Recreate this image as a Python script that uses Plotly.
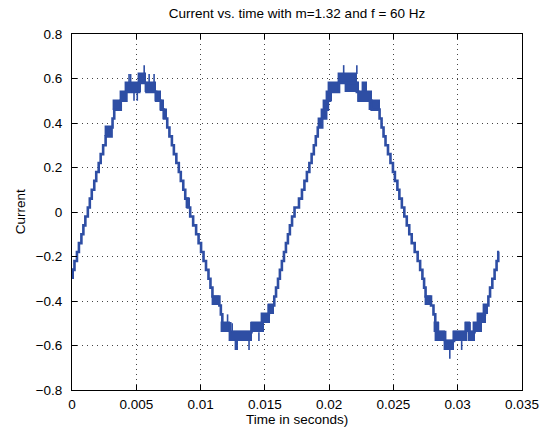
import plotly.graph_objects as go

# ---- data (time in s, current) ----
# staircase: time where each current level starts, and that level
step_t = [0.0, 0.000192, 0.000385, 0.000538, 0.000731, 0.000885, 0.001038, 0.001231, 0.001385, 0.001538,
          0.001731, 0.001885, 0.002077, 0.002231, 0.002423, 0.002615, 0.003077, 0.003154, 0.003285, 0.003792,
          0.004231, 0.005231, 0.005792, 0.006538, 0.006923, 0.007154, 0.007408, 0.007577, 0.007769, 0.007923,
          0.008115, 0.008308, 0.008462, 0.008654, 0.008808, 0.009000, 0.009192, 0.009423, 0.009654, 0.009846,
          0.010038, 0.010231, 0.010423, 0.010615, 0.010769, 0.010923, 0.011462, 0.011577, 0.011692, 0.012308,
          0.013962, 0.014808, 0.015308, 0.015731, 0.015869, 0.016023, 0.016169, 0.016323, 0.016485, 0.016638,
          0.016792, 0.016946, 0.017115, 0.017308, 0.017654, 0.017885, 0.018077, 0.018269, 0.018462, 0.018638,
          0.018808, 0.018962, 0.019115, 0.019462, 0.019769, 0.019900, 0.020077, 0.020769, 0.022154, 0.022285,
          0.023308, 0.023923, 0.024077, 0.024231, 0.024385, 0.024577, 0.024769, 0.024962, 0.025115, 0.025308,
          0.025462, 0.025654, 0.025846, 0.026038, 0.026231, 0.026423, 0.026654, 0.026885, 0.027077, 0.027254,
          0.027385, 0.027500, 0.027923, 0.028115, 0.028254, 0.028462, 0.029023, 0.029715, 0.030638, 0.030923,
          0.031308, 0.031769, 0.032115, 0.032385, 0.032515, 0.032692, 0.032869, 0.033023, 0.033154, 0.033231]
step_i = [-0.26, -0.22, -0.18, -0.14, -0.10, -0.06, -0.02, 0.02, 0.06, 0.10,
          0.14, 0.18, 0.22, 0.26, 0.30, 0.34, 0.38, 0.42, 0.46, 0.50,
          0.54, 0.58, 0.54, 0.50, 0.46, 0.42, 0.38, 0.34, 0.30, 0.26,
          0.22, 0.18, 0.14, 0.10, 0.06, 0.02, -0.02, -0.06, -0.10, -0.14,
          -0.18, -0.22, -0.26, -0.30, -0.34, -0.38, -0.42, -0.46, -0.50, -0.54,
          -0.50, -0.46, -0.42, -0.38, -0.34, -0.30, -0.26, -0.22, -0.18, -0.14,
          -0.10, -0.06, -0.02, 0.02, 0.06, 0.10, 0.14, 0.18, 0.22, 0.26,
          0.30, 0.34, 0.38, 0.42, 0.46, 0.50, 0.54, 0.58, 0.54, 0.50,
          0.46, 0.42, 0.38, 0.34, 0.30, 0.26, 0.22, 0.18, 0.14, 0.10,
          0.06, 0.02, -0.02, -0.06, -0.10, -0.14, -0.18, -0.22, -0.26, -0.30,
          -0.34, -0.38, -0.42, -0.46, -0.50, -0.54, -0.58, -0.54, -0.50, -0.54,
          -0.50, -0.46, -0.42, -0.38, -0.34, -0.30, -0.26, -0.22, -0.18, -0.18]

# fast switching bands (current chatters between two levels)
block_t0 = [0.0, 0.002615, 0.003285, 0.003792, 0.004208, 0.005231, 0.005792, 0.006538, 0.006923, 0.007154,
            0.008962, 0.011000, 0.011692, 0.012308, 0.012769, 0.013962, 0.014808, 0.015308,
            0.019208, 0.019462, 0.019615, 0.019846, 0.019977, 0.020746, 0.021308, 0.022285, 0.022669, 0.023154,
            0.027500, 0.028254, 0.028308, 0.029023, 0.029715, 0.030638, 0.030908, 0.031231, 0.031615, 0.032077]
block_t1 = [0.000192, 0.003077, 0.003792, 0.004269, 0.005362, 0.005792, 0.006538, 0.006923, 0.007154, 0.007408,
            0.009192, 0.011462, 0.012308, 0.013962, 0.012923, 0.014923, 0.015385, 0.015731,
            0.019462, 0.019769, 0.019900, 0.020231, 0.020869, 0.022154, 0.022285, 0.023308, 0.022977, 0.023923,
            0.027923, 0.028562, 0.029023, 0.029715, 0.030700, 0.030977, 0.031369, 0.031869, 0.032177, 0.032385]
block_lo = [-0.30, 0.34, 0.46, 0.50, 0.54, 0.58, 0.54, 0.50, 0.46, 0.42,
            0.02, -0.42, -0.54, -0.58, -0.62, -0.54, -0.50, -0.46,
            0.38, 0.42, 0.46, 0.50, 0.54, 0.58, 0.54, 0.50, 0.54, 0.46,
            -0.42, -0.54, -0.58, -0.62, -0.58, -0.54, -0.58, -0.54, -0.50, -0.46]
block_hi = [-0.26, 0.38, 0.50, 0.54, 0.58, 0.62, 0.58, 0.54, 0.50, 0.46,
            0.06, -0.38, -0.50, -0.54, -0.58, -0.50, -0.46, -0.42,
            0.42, 0.46, 0.50, 0.54, 0.58, 0.62, 0.58, 0.54, 0.58, 0.50,
            -0.38, -0.50, -0.54, -0.58, -0.54, -0.50, -0.54, -0.50, -0.46, -0.42]

# single short excursions
spike_t = [0.004438, 0.004562, 0.004823, 0.005077, 0.005615, 0.006000, 0.006385,
           0.012100, 0.012462, 0.013769, 0.014538,
           0.021131, 0.022154, 0.029385, 0.030308]
spike_lo = [0.58, 0.58, 0.50, 0.50, 0.62, 0.58, 0.58,
            -0.50, -0.54, -0.62, -0.58,
            0.62, 0.62, -0.66, -0.62]
spike_hi = [0.62, 0.62, 0.54, 0.54, 0.66, 0.62, 0.62,
            -0.46, -0.50, -0.58, -0.54,
            0.66, 0.66, -0.62, -0.58]

x_ticks = [0, 0.005, 0.01, 0.015, 0.02, 0.025, 0.03, 0.035]
x_labels = ["0", "0.005", "0.01", "0.015", "0.02", "0.025", "0.03", "0.035"]
y_ticks = [-0.8, -0.6, -0.4, -0.2, 0, 0.2, 0.4, 0.6, 0.8]
y_labels = ["\u22120.8", "\u22120.6", "\u22120.4", "\u22120.2", "0", "0.2", "0.4", "0.6", "0.8"]

BLUE = "#2e4ea4"
FONT = "Liberation Sans, Arial, Helvetica, sans-serif"

fig = go.Figure()

# chatter bands
fig.add_trace(go.Bar(
    x=[(a + b) / 2 for a, b in zip(block_t0, block_t1)],
    width=[b - a for a, b in zip(block_t0, block_t1)],
    base=block_lo,
    y=[h - l for l, h in zip(block_lo, block_hi)],
    marker=dict(color=BLUE, line=dict(color=BLUE, width=1.4)),
    hoverinfo="skip", showlegend=False))

# staircase current
fig.add_trace(go.Scatter(x=step_t, y=step_i, mode="lines",
                         line=dict(color=BLUE, width=2.6, shape="hv"),
                         hoverinfo="skip", showlegend=False))

# spikes
sx, sy = [], []
for t, lo, hi in zip(spike_t, spike_lo, spike_hi):
    sx += [t, t, None]
    sy += [lo, hi, None]
fig.add_trace(go.Scatter(x=sx, y=sy, mode="lines", line=dict(color=BLUE, width=1.6),
                         hoverinfo="skip", showlegend=False))

axis_common = dict(showline=True, linecolor="black", linewidth=1, mirror="ticks",
                   ticks="inside", ticklen=5, tickwidth=1, tickcolor="black",
                   showgrid=True, gridcolor="#444444", gridwidth=1, griddash="1px,4px",
                   zeroline=False, tickfont=dict(family=FONT, size=13.5, color="black"))

fig.update_xaxes(range=[0, 0.035], tickvals=x_ticks, ticktext=x_labels,
                 ticklabelstandoff=2, **axis_common)
fig.update_yaxes(range=[-0.8, 0.8], tickvals=y_ticks, ticktext=y_labels,
                 ticklabelstandoff=6, **axis_common)

fig.update_layout(
    width=551, height=435,
    margin=dict(l=72, r=24, t=34, b=45),
    paper_bgcolor="white", plot_bgcolor="white",
    barmode="overlay", bargap=0,
    font=dict(family=FONT, size=13.5, color="black"),
    title=dict(text="Current vs. time with m=1.32 and f = 60 Hz", x=0.5, xanchor="center",
               xref="paper", y=1 - 13 / 435, yanchor="middle", yref="container",
               font=dict(family=FONT, size=13.5, color="black")),
    annotations=[
        dict(text="Time in seconds)", xref="paper", yref="paper", x=0.5, y=-0.082,
             xanchor="center", yanchor="middle", showarrow=False,
             font=dict(family=FONT, size=13.5, color="black")),
        dict(text="Current", xref="paper", yref="paper", x=-0.115, y=0.5,
             xanchor="center", yanchor="middle", textangle=-90, showarrow=False,
             font=dict(family=FONT, size=13.5, color="black")),
    ],
)

fig.write_html("out.html", config={"displayModeBar": False},
               post_script="document.body.style.margin='0';")
